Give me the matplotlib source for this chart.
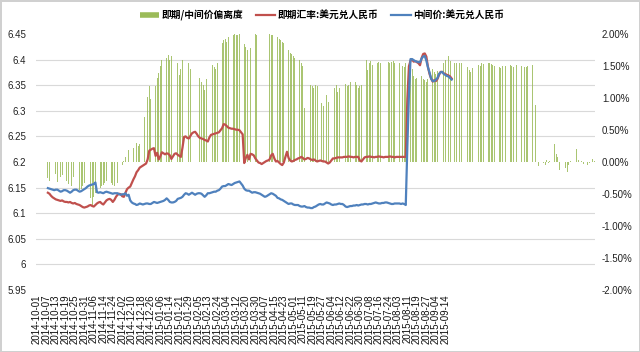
import numpy as np
import matplotlib
matplotlib.use("Agg")
import matplotlib.pyplot as plt
from matplotlib.lines import Line2D

N = None

# category labels (shown every 6th category)
date_labels = [
    "2014-10-01", "2014-10-07", "2014-10-13", "2014-10-19", "2014-10-25", "2014-10-31",
    "2014-11-06", "2014-11-14", "2014-11-24", "2014-12-02", "2014-12-10", "2014-12-18",
    "2014-12-26", "2015-01-06", "2015-01-14", "2015-01-21", "2015-01-29", "2015-02-05",
    "2015-02-13", "2015-02-24", "2015-03-04", "2015-03-12", "2015-03-20", "2015-03-30",
    "2015-04-07", "2015-04-15", "2015-04-23", "2015-05-01", "2015-05-11", "2015-05-19",
    "2015-05-27", "2015-06-04", "2015-06-12", "2015-06-22", "2015-06-30", "2015-07-08",
    "2015-07-16", "2015-07-24", "2015-08-03", "2015-08-11", "2015-08-19", "2015-08-27",
    "2015-09-04", "2015-09-14",
]
label_step = 6

# 即期/中间价偏离度 (%), one value per category, blanks on non-trading days
deviation_pct = [
    N, N, N, N, N,
    N, N, -0.25, -0.30, -0.22, N, N,
    -0.18, -0.31, -0.26, -0.23, -0.20, N, N,
    -0.30, -0.34, -0.39, -0.38, -0.23, N, N,
    -0.40, -0.44, -0.42, -0.38, -0.33, N, N,
    -0.52, -0.57, -0.67, -0.55, -0.49, N, N,
    -0.40, -0.38, -0.36, -0.33, -0.30, N, N,
    -0.33, -0.36, -0.38, -0.35, -0.33, N, N,
    -0.05, 0.02, 0.08, 0.12, 0.18, N, N,
    0.22, 0.27, 0.30, 0.25, 0.28, N, N,
    0.71, 0.95, 1.02, 1.18, 0.99, N, N,
    1.18, 1.31, 1.39, 1.50, 1.59, N, N,
    1.62, 1.67, 1.59, 1.65, 1.40, N, N,
    1.54, 1.36, 1.45, 1.60, 1.50, N, N,
    1.55, 1.45, 1.40, N, N, N, N,
    1.31, 1.25, 1.20, 1.12, 1.30, N, N,
    1.50, 1.52, 1.48, 1.45, 1.55, N, N,
    1.86, 1.90, 1.92, 1.88, 1.95, N, N,
    1.99, 2.00, 1.99, 1.98, 2.00, N, N,
    1.85, 1.80, 1.75, 1.70, 1.78, N, N,
    2.00, 1.98, N, N, N, N, N,
    N, N, 2.00, 1.98, 1.99, N, N,
    1.95, 1.92, 1.90, 1.88, 1.86, N, N,
    1.75, 1.70, 1.68, 1.65, 1.62, N, N,
    1.60, 1.55, 1.50, 0.85, 0.80, N, N,
    1.20, 1.18, 1.15, 1.20, 1.18, N, N,
    0.92, 0.88, 1.00, 1.05, 0.94, N, N,
    N, 1.15, 1.20, 1.10, 1.15, N, N,
    1.25, 1.22, 1.18, 1.20, 1.25, N, N,
    1.25, 1.20, 1.15, 1.18, 1.20, N, N,
    1.60, 1.44, 1.55, 1.58, 1.52, N, N,
    1.55, 1.57, 1.55, 1.56, N, N, N,
    1.57, 1.55, 1.56, 1.58, 1.55, N, N,
    1.55, 1.52, 1.50, 1.48, 1.55, N, N,
    1.50, 1.45, 1.35, 1.30, 1.32, N, N,
    1.35, 1.30, 1.28, 1.25, 1.30, N, N,
    1.45, 1.40, 1.38, 1.42, 1.48, N, N,
    1.55, 1.60, 1.62, 1.65, 1.58, N, N,
    1.54, 1.55, 1.53, 1.54, 1.55, N, N,
    N, 1.49, 1.44, 1.41, 1.47, N, N,
    1.50, 1.52, 1.50, 1.54, 1.53, N, N,
    1.55, 1.54, 1.53, 1.52, 1.50, N, N,
    1.48, 1.47, 1.50, 1.51, 1.50, N, N,
    1.52, 1.50, 1.49, 1.50, 1.51, N, N,
    1.50, 1.49, 1.48, 1.48, 1.50, N, N,
    1.52, 1.50, 0.89, 0.00, -0.07, N, N,
    -0.02, -0.05, 0.03, -0.01, 0.02, N, N,
    0.28, 0.13, 0.08, -0.13, -0.20, N, N,
    -0.10, -0.15, -0.05, 0.02, 0.00, N, N,
    0.21, 0.03, 0.08, 0.02, -0.03, N, N,
    -0.05, -0.02, 0.03, 0.04, 0.02,
]

# 即期汇率:美元兑人民币
spot_rate = [N] * 7 + [
    6.140, 6.138, 6.134, 6.131, 6.129, 6.127, 6.126, 6.125, 6.124, 6.125,
    6.123, 6.122, 6.122, 6.121, 6.122, 6.120, 6.119, 6.120, 6.118, 6.117,
    6.116, 6.114, 6.112, 6.111, 6.112, 6.113, 6.115, 6.116, 6.114, 6.113,
    6.116, 6.119, 6.121, 6.122, 6.119, 6.117, 6.121, 6.125, 6.127, 6.128,
    6.126, 6.122, 6.126, 6.132, 6.136, 6.138, 6.137, 6.133, 6.132, 6.140,
    6.147, 6.150, 6.152, 6.159, 6.166, 6.172, 6.180, 6.184, 6.189, 6.191,
    6.193, 6.195, 6.197, 6.205, 6.222, 6.224, 6.226, 6.227, 6.212, 6.218,
    6.205, 6.211, 6.219, 6.217, 6.215, 6.217, 6.216, 6.213, 6.206, 6.211,
    6.216, 6.217, 6.214, 6.212, 6.210, 6.228, 6.249, 6.250, 6.247, 6.246,
    6.251, 6.256, 6.258, 6.259, 6.255, 6.250, 6.247, 6.246, 6.245, 6.243,
    6.242, 6.240, 6.248, 6.253, 6.254, 6.255, 6.256, 6.257, 6.258, 6.262,
    6.266, 6.274, 6.273, 6.270, 6.267, 6.266, 6.265, 6.265, 6.264, 6.263,
    6.263, 6.262, 6.258, 6.254, 6.198, 6.208, 6.214, 6.205, 6.216, 6.215,
    6.213, 6.207, 6.203, 6.199, 6.198, 6.196, 6.198, 6.200, 6.202, 6.203,
    6.205, 6.213, 6.216, 6.207, 6.201, 6.202, 6.199, 6.196, 6.194, 6.199,
    6.210, 6.220, 6.208, 6.203, 6.201, 6.202, 6.204, 6.205, 6.207, 6.208,
    6.210, 6.208, 6.205, 6.206, 6.208, 6.207, 6.205, 6.204, 6.205, 6.203,
    6.201, 6.202, 6.203, 6.202, 6.201, 6.201, 6.199, 6.197, 6.199, 6.203,
    6.207, 6.207, 6.208, 6.209, 6.209, 6.209, 6.209, 6.210, 6.210, 6.210,
    6.211, 6.210, 6.210, 6.209, 6.210, 6.210, 6.210, 6.203, 6.201, 6.205,
    6.209, 6.210, 6.210, 6.211, 6.210, 6.210, 6.209, 6.210, 6.210, 6.211,
    6.210, 6.210, 6.209, 6.210, 6.210, 6.210, 6.211, 6.210, 6.210, 6.209,
    6.210, 6.210, 6.210, 6.210, 6.210, 6.210, 6.210, 6.323, 6.387, 6.398,
    6.400, 6.396, 6.397, 6.395, 6.393, 6.389, 6.403, 6.411, 6.412, 6.406,
    6.386, 6.372, 6.363, 6.357, 6.360, 6.358, 6.362, 6.370, 6.376, 6.376,
    6.373, 6.372, 6.370, 6.369, 6.367, 6.363,
]

# 中间价:美元兑人民币
central_parity = [N] * 7 + [
    6.149, 6.148, 6.147, 6.146, 6.145, 6.146, 6.146, 6.144, 6.142, 6.143,
    6.145, 6.145, 6.144, 6.142, 6.140, 6.142, 6.145, 6.146, 6.146, 6.144,
    6.142, 6.143, 6.145, 6.147, 6.149, 6.152, 6.154, 6.155, 6.156, 6.157,
    6.160, 6.141, 6.140, 6.141, 6.140, 6.139, 6.141, 6.142, 6.141, 6.140,
    6.139, 6.138, 6.139, 6.139, 6.139, 6.137, 6.136, 6.137, 6.137, 6.139,
    6.134, 6.136, 6.125, 6.121, 6.119, 6.118, 6.116, 6.117, 6.119, 6.118,
    6.117, 6.118, 6.119, 6.119, 6.118, 6.118, 6.120, 6.122, 6.121, 6.120,
    6.121, 6.122, 6.123, 6.124, 6.126, 6.129, 6.126, 6.122, 6.121, 6.121,
    6.122, 6.124, 6.128, 6.129, 6.130, 6.132, 6.136, 6.139, 6.138, 6.136,
    6.138, 6.140, 6.138, 6.136, 6.138, 6.139, 6.139, 6.138, 6.135, 6.132,
    6.135, 6.139, 6.139, 6.140, 6.141, 6.142, 6.142, 6.144, 6.145, 6.148,
    6.152, 6.153, 6.153, 6.155, 6.157, 6.156, 6.155, 6.157, 6.159, 6.160,
    6.161, 6.162, 6.158, 6.154, 6.148, 6.145, 6.144, 6.144, 6.142, 6.140,
    6.141, 6.141, 6.140, 6.139, 6.138, 6.136, 6.134, 6.132, 6.133, 6.135,
    6.137, 6.139, 6.138, 6.136, 6.134, 6.130, 6.129, 6.127, 6.126, 6.124,
    6.122, 6.120, 6.118, 6.119, 6.119, 6.117, 6.116, 6.116, 6.116, 6.114,
    6.113, 6.113, 6.114, 6.112, 6.111, 6.111, 6.110, 6.110, 6.112, 6.113,
    6.115, 6.117, 6.118, 6.117, 6.117, 6.119, 6.121, 6.120, 6.119, 6.117,
    6.116, 6.117, 6.117, 6.118, 6.119, 6.118, 6.118, 6.116, 6.113, 6.112,
    6.113, 6.114, 6.114, 6.115, 6.115, 6.116, 6.115, 6.116, 6.117, 6.117,
    6.118, 6.118, 6.117, 6.118, 6.118, 6.119, 6.120, 6.121, 6.120, 6.119,
    6.119, 6.120, 6.120, 6.121, 6.121, 6.120, 6.119, 6.118, 6.118, 6.119,
    6.119, 6.119, 6.119, 6.118, 6.119, 6.118, 6.116, 6.230, 6.331, 6.401,
    6.401, 6.399, 6.397, 6.396, 6.395, 6.395, 6.402, 6.406, 6.407, 6.398,
    6.385, 6.375, 6.363, 6.358, 6.358, 6.361, 6.364, 6.372, 6.375, 6.376,
    6.372, 6.370, 6.368, 6.367, 6.364, 6.361,
]

left_ticks = [5.95, 6.0, 6.05, 6.1, 6.15, 6.2, 6.25, 6.3, 6.35, 6.4, 6.45]
right_ticks = [-2.0, -1.5, -1.0, -0.5, 0.0, 0.5, 1.0, 1.5, 2.0]

green = "#9BBB59"
red = "#C0504D"
blue = "#4F81BD"
grid_c = "#D9D9D9"
num_font = "Liberation Sans"
cjk_font = ["Noto Sans CJK SC", "DejaVu Sans"]

fig = plt.figure(figsize=(6.4, 3.52), dpi=100)
fig.patch.set_facecolor("white")
fig.patch.set_edgecolor("#D0D0D0")
fig.patch.set_linewidth(1.0)

L, R, T, B = 36, 595, 34, 290
ax1 = fig.add_axes([L / 640, 1 - B / 352, (R - L) / 640, (B - T) / 352])
ax2 = ax1.twinx()
ax1.set_zorder(ax2.get_zorder() + 1)
ax1.patch.set_visible(False)

dev = np.array(deviation_pct, dtype=float)
n_cat = len(dev)
x = np.arange(n_cat)

# bars on right (percent) axis
ax2.bar(x, dev, width=0.55, color=green, linewidth=0, alpha=0.85, zorder=2)
ax2.set_ylim(right_ticks[0], right_ticks[-1])
ax2.set_yticks(right_ticks)
ax2.set_yticklabels([f"{v:.2f}%" for v in right_ticks], fontfamily=num_font, fontsize=7)
# horizontal gridlines matching the left-axis ticks
grid_pos = np.linspace(right_ticks[0], right_ticks[-1], len(left_ticks))
ax2.set_yticks(grid_pos, minor=True)
ax2.grid(which="minor", axis="y", color=grid_c, linewidth=0.8, zorder=0)
ax2.grid(which="major", visible=False)
ax2.set_axisbelow(True)
ax2.tick_params(axis="y", which="both", length=0, pad=5, colors="#222222")

# lines on left axis
sp = np.array(spot_rate, dtype=float)
cp = np.array(central_parity, dtype=float)
ax1.plot(np.arange(len(sp)), sp, color=red, linewidth=1.6, solid_joinstyle="round")
ax1.plot(np.arange(len(cp)), cp, color=blue, linewidth=1.6, solid_joinstyle="round")
ax1.set_ylim(left_ticks[0], left_ticks[-1])
ax1.set_yticks(left_ticks)
ax1.set_yticklabels([f"{v:g}" for v in left_ticks], fontfamily=num_font, fontsize=7)
ax1.tick_params(axis="y", length=0, pad=7, colors="#222222")

ax1.set_xlim(-0.5, n_cat - 0.5)
tick_pos = np.arange(len(date_labels)) * label_step
ax1.set_xticks(tick_pos)
ax1.set_xticklabels(date_labels, rotation=90, fontfamily=num_font, fontsize=7)
ax1.tick_params(axis="x", length=0, pad=3, colors="#111111")

for a in (ax1, ax2):
    for s in a.spines.values():
        s.set_visible(False)

handles = [
    Line2D([], [], color=green, linewidth=4, solid_capstyle="butt"),
    Line2D([], [], color=red, linewidth=1.6),
    Line2D([], [], color=blue, linewidth=1.6),
]
labels = ["即期/中间价偏离度", "即期汇率:美元兑人民币", "中间价:美元兑人民币"]
fig.legend(handles, labels, loc="center", bbox_to_anchor=(0.503, 1 - 15 / 352), ncol=3,
           frameon=False, prop={"family": cjk_font, "size": 7, "weight": "bold"},
           handlelength=2.0, handletextpad=0.25, columnspacing=1.3)

fig.savefig("out.png", dpi=100, facecolor=fig.get_facecolor(), edgecolor=fig.get_edgecolor())
